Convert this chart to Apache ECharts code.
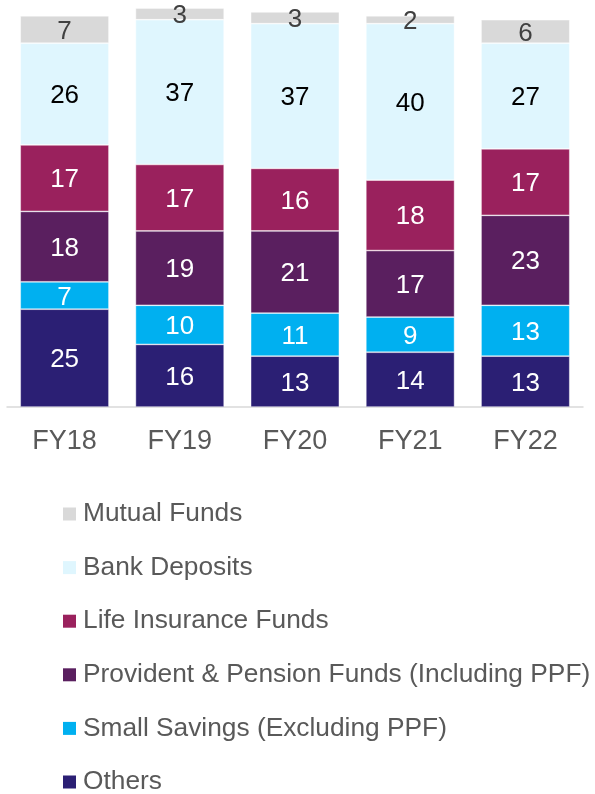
<!DOCTYPE html>
<html>
<head>
<meta charset="utf-8">
<script src="https://cdn.jsdelivr.net/npm/echarts@6/dist/echarts.min.js"></script>
<style>
  html, body { margin: 0; padding: 0; background: #fff; }
  #chart { width: 595px; height: 794px; }
</style>
</head>
<body>
<div id="chart"></div>
<script>
// Household financial savings composition (%), by fiscal year
const categories = ['FY18', 'FY19', 'FY20', 'FY21', 'FY22'];

const others          = [25, 16, 13, 14, 13];
const smallSavings    = [7, 10, 11, 9, 13];
const providentFunds  = [18, 19, 21, 17, 23];
const lifeInsurance   = [17, 17, 16, 18, 17];
const bankDeposits    = [26, 37, 37, 40, 27];
const mutualFunds     = [7, 3, 3, 2, 6];

const seriesDefs = [
  { name: 'Others', data: others, color: '#2B1F74', label: '#FFFFFF' },
  { name: 'Small Savings (Excluding PPF)', data: smallSavings, color: '#00B0F0', label: '#FFFFFF' },
  { name: 'Provident & Pension Funds (Including PPF)', data: providentFunds, color: '#5A1F5F', label: '#FFFFFF' },
  { name: 'Life Insurance Funds', data: lifeInsurance, color: '#9A215D', label: '#FFFFFF' },
  { name: 'Bank Deposits', data: bankDeposits, color: '#DFF6FE', label: '#000000' },
  { name: 'Mutual Funds', data: mutualFunds, color: '#D9D9D9', label: '#404040' }
];

const legendOrder = ['Mutual Funds', 'Bank Deposits', 'Life Insurance Funds',
  'Provident & Pension Funds (Including PPF)', 'Small Savings (Excluding PPF)', 'Others'];

const FONT = 'Liberation Sans, Arial, sans-serif';

const chart = echarts.init(document.getElementById('chart'), null, { renderer: 'canvas' });

chart.setOption({
  animation: false,
  textStyle: { fontFamily: FONT },
  grid: { left: 7, right: 12, top: 8, bottom: 387, containLabel: false },
  xAxis: {
    type: 'category',
    data: categories,
    axisLine: { show: true, lineStyle: { color: '#D9D9D9', width: 1.5 } },
    axisTick: { show: false },
    axisLabel: { color: '#595959', fontSize: 27, margin: 21, fontFamily: FONT }
  },
  yAxis: {
    type: 'value',
    min: 0,
    max: 102,
    show: false,
    splitLine: { show: false }
  },
  legend: {
    orient: 'vertical',
    left: 63,
    top: 499,
    height: 320,
    padding: 0,
    itemWidth: 13,
    itemHeight: 13,
    itemGap: 23.6,
    icon: 'rect',
    data: legendOrder,
    textStyle: { color: '#595959', fontSize: 26.3, lineHeight: 30, padding: [0, 0, 0, 2], fontFamily: FONT },
    itemStyle: { borderWidth: 0 }
  },
  series: seriesDefs.map(s => ({
    name: s.name,
    type: 'bar',
    stack: 'total',
    data: s.data,
    barCategoryGap: '23%',
    itemStyle: { color: s.color, borderColor: 'rgba(255,255,255,0.55)', borderWidth: 0.75 },
    label: {
      show: true,
      position: 'inside',
      color: s.label,
      fontSize: 26,
      offset: [0, 2],
      fontFamily: FONT
    },
    emphasis: { disabled: true }
  }))
});
</script>
</body>
</html>
